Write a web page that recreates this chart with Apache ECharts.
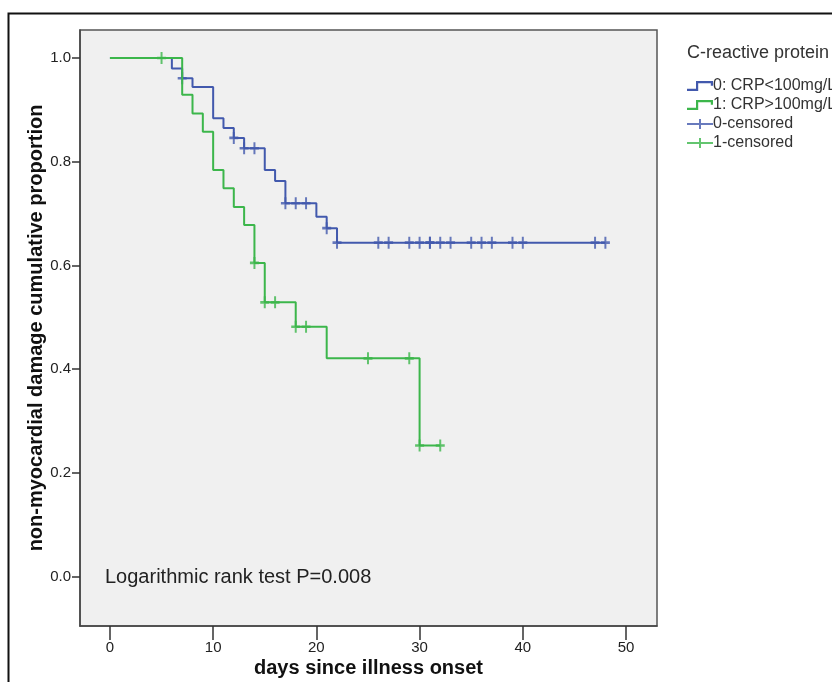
<!DOCTYPE html>
<html>
<head>
<meta charset="utf-8">
<title>Kaplan-Meier CRP</title>
<script src="https://cdn.jsdelivr.net/npm/echarts@6/dist/echarts.min.js"></script>
<style>
  html, body { margin: 0; padding: 0; background: #fff; }
  #main { width: 832px; height: 682px; }
</style>
</head>
<body>
<div id="main"></div>
<script>
// group 0: CRP<100mg/L  (event days and survival after each step)
var blueTimes = [0, 6, 7, 8, 10, 11, 12, 13, 15, 16, 17, 20, 21, 22, 48];
var blueSurv  = [1.0, 0.980, 0.961, 0.944, 0.884, 0.865, 0.846, 0.826, 0.784, 0.763, 0.720, 0.694, 0.672, 0.644, 0.644];
var blueCensor = [7, 12, 13, 14, 17, 18, 19, 21, 22, 26, 27, 29, 30, 31, 31, 32, 33, 35, 36, 37, 39, 40, 47, 48];

// group 1: CRP>100mg/L
var greenTimes = [0, 7, 8, 9, 10, 11, 12, 13, 14, 15, 18, 21, 30, 32];
var greenSurv  = [1.0, 0.929, 0.893, 0.858, 0.784, 0.749, 0.713, 0.678, 0.605, 0.529, 0.482, 0.421, 0.253, 0.253];
var greenCensor = [5, 14, 15, 16, 18, 19, 25, 29, 30, 32];

var xTicks = [0, 10, 20, 30, 40, 50];
var yTicks = [0, 0.2, 0.4, 0.6, 0.8, 1.0];

var BLUE = '#4259ad';
var GREEN = '#3cb64b';
var FONT = 'Liberation Sans';

function pairs(ts, vs) {
  return ts.map(function (t, i) { return [t, vs[i]]; });
}
// survival value at day t of the step function
function survAt(ts, vs, t) {
  var v = vs[0];
  for (var i = 0; i < ts.length; i++) {
    if (ts[i] <= t) v = vs[i];
  }
  return v;
}
function censorPts(cs, ts, vs) {
  return cs.map(function (t) { return [t, survAt(ts, vs, t)]; });
}

var plusPath = 'path://M3.9,0H6.1V3.9H10V6.1H6.1V10H3.9V6.1H0V3.9H3.9Z';
var stepIcon = 'path://M0,7.8H11.2V10H0Z M9,0H11.2V10H9Z M9,0H26V2.2H9Z M23.8,0H26V4.8H23.8Z';
var censIcon = 'path://M0,3.9H26V6.1H0Z M12,0H14V10H12Z';

var myChart = echarts.init(document.getElementById('main'));
var option = {
  animation: false,
  textStyle: { fontFamily: FONT },
  title: {
    text: 'C-reactive protein',
    left: 682, top: 39,
    textStyle: { fontFamily: FONT, fontSize: 18, fontWeight: 'normal', color: '#333' }
  },
  legend: {
    orient: 'vertical',
    left: 682, top: 73,
    itemWidth: 26, itemHeight: 10, itemGap: 3,
    itemStyle: { borderWidth: 0 },
    textStyle: { fontFamily: FONT, fontSize: 16, color: '#333', padding: [0, 0, 0, -5] },
    data: [
      { name: '0: CRP<100mg/L', icon: stepIcon },
      { name: '1: CRP>100mg/L', icon: stepIcon },
      { name: '0-censored', icon: censIcon },
      { name: '1-censored', icon: censIcon }
    ]
  },
  grid: {
    left: 80, top: 30, right: 175, bottom: 56,
    outerBoundsMode: 'none', containLabel: false,
    show: true, backgroundColor: '#f0f0f0', borderColor: '#555', borderWidth: 1.5
  },
  xAxis: {
    type: 'value', min: -2.9, max: 53,
    name: 'days since illness onset', nameLocation: 'middle', nameGap: 32, nameMoveOverlap: false,
    nameTextStyle: { fontFamily: FONT, fontSize: 20, fontWeight: 'bold', color: '#111' },
    axisLine: { show: true, onZero: false, lineStyle: { color: '#444', width: 1.5 } },
    axisTick: { show: true, inside: false, length: 14, customValues: xTicks, lineStyle: { color: '#333', width: 1.5 } },
    axisLabel: { customValues: xTicks, margin: 14, fontSize: 15, color: '#222', fontFamily: FONT },
    splitLine: { show: false }
  },
  yAxis: {
    type: 'value', min: -0.095, max: 1.054,
    name: 'non-myocardial damage cumulative proportion', nameLocation: 'middle', nameGap: 34, nameRotate: 90,
    nameMoveOverlap: false,
    nameTextStyle: { fontFamily: FONT, fontSize: 20, fontWeight: 'bold', color: '#111' },
    axisLine: { show: true, onZero: false, lineStyle: { color: '#444', width: 1.5 } },
    axisTick: { show: true, inside: false, length: 8, customValues: yTicks, lineStyle: { color: '#333', width: 1.5 } },
    axisLabel: {
      customValues: yTicks, margin: 9, fontSize: 15, color: '#222', fontFamily: FONT,
      formatter: function (v) { return v.toFixed(1); }
    },
    splitLine: { show: false }
  },
  graphic: [
    {
      type: 'rect', left: 6, top: 11, silent: true,
      shape: { width: 900, height: 800 },
      style: { fill: 'none', stroke: '#111', lineWidth: 2 }
    },
    {
      type: 'text', left: 105, top: 567, silent: true,
      style: { text: 'Logarithmic rank test P=0.008', fontFamily: FONT, fontSize: 20, fill: '#222' }
    }
  ],
  series: [
    {
      name: '0: CRP<100mg/L', type: 'line', step: 'end', symbol: 'none',
      data: pairs(blueTimes, blueSurv),
      itemStyle: { color: BLUE },
      lineStyle: { color: BLUE, width: 2 }
    },
    {
      name: '1: CRP>100mg/L', type: 'line', step: 'end', symbol: 'none',
      data: pairs(greenTimes, greenSurv),
      itemStyle: { color: GREEN },
      lineStyle: { color: GREEN, width: 2 }
    },
    {
      name: '0-censored', type: 'scatter', symbol: plusPath, symbolSize: [9, 12],
      data: censorPts(blueCensor, blueTimes, blueSurv),
      itemStyle: { color: BLUE }
    },
    {
      name: '1-censored', type: 'scatter', symbol: plusPath, symbolSize: [9, 12],
      data: censorPts(greenCensor, greenTimes, greenSurv),
      itemStyle: { color: GREEN }
    }
  ]
};
myChart.setOption(option);
</script>
</body>
</html>
